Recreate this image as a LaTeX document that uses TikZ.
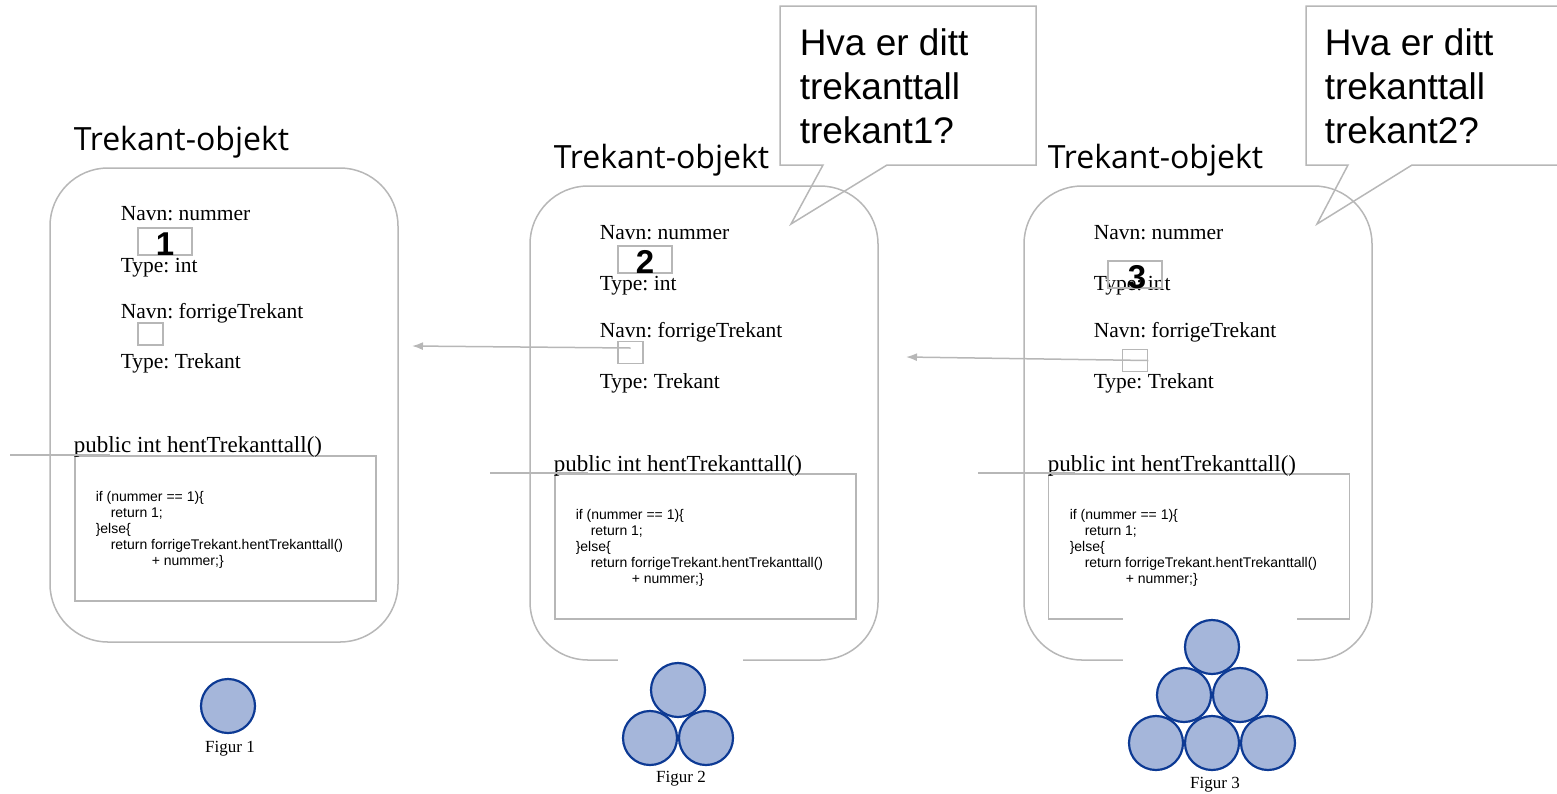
\documentclass[tikz,border=0pt]{standalone}
\usepackage{fontspec}
\setmainfont{Liberation Serif}
\newfontfamily\titlefont{Open Sans}
\newfontfamily\arialfont{Liberation Sans}
\usetikzlibrary{arrows.meta}
\frenchspacing

\definecolor{linegray}{HTML}{B7B7B7}
\definecolor{ballfill}{HTML}{A5B6DA}
\definecolor{balledge}{HTML}{0D3A94}

\begin{document}
\begin{tikzpicture}[x=1pt, y=-1pt, line width=1.5pt]
        \tikzstyle{objbox} = [rectangle, draw=linegray, rounded corners=58pt, minimum width=348pt, minimum height=474pt]
        \tikzstyle{codebox} = [rectangle, draw=linegray, minimum width=301pt, minimum height=145pt]
        \tikzstyle{valbox} = [rectangle, draw=linegray, minimum width=54pt, minimum height=27pt, inner sep=0]
        \tikzstyle{refbox} = [rectangle, draw=linegray, minimum width=25pt, minimum height=22pt, inner sep=0]
        \tikzstyle{field} = [anchor=base west, inner sep=0, font=\fontsize{21.5}{25}\selectfont]
        \tikzstyle{method} = [anchor=base west, inner sep=0, font=\fontsize{23}{27}\selectfont]
        \tikzstyle{objtitle} = [anchor=base west, inner sep=0, font=\titlefont\fontsize{32}{38}\selectfont]
        \tikzstyle{codetext} = [anchor=north west, inner sep=0, align=left, font=\arialfont\fontsize{14}{16}\selectfont]
        \tikzstyle{digit} = [anchor=base, inner sep=0, font=\arialfont\bfseries\fontsize{33}{38}\selectfont]
        \tikzstyle{ball} = [circle, draw=balledge, fill=ballfill, line width=2.2pt, minimum size=54pt, inner sep=0]
        \tikzstyle{figcap} = [anchor=base, inner sep=0, font=\fontsize{17}{20}\selectfont]
        \tikzstyle{speech} = [anchor=north west, inner sep=0, align=left, font=\arialfont\fontsize{37}{44}\selectfont]
        \tikzstyle{pointer} = [draw=linegray, -{Latex[length=11pt,width=8pt]}]

        \useasboundingbox (0,0) rectangle (1557,793);
        \clip (0,0) rectangle (1557,793);

        % Objekt 1
        \node[objbox] (obj1) at (224,405) {};
        \node[codebox] (code1) at (225.5,528.5) {};
        \node[objtitle] (title1) at (73,150) {Trekant-objekt};
        \node[field] (name1a) at (120,220) {Navn: nummer};
        \node[valbox] (val1) at (165,241.5) {};
        \node[field] (type1a) at (120,272) {Type: int};
        \node[field] (name1b) at (120,318) {Navn: forrigeTrekant};
        \node[refbox] (ref1) at (150.5,334) {};
        \node[field] (type1b) at (120,368) {Type: Trekant};
        \node[method] (meth1) at (73,452) {public int hentTrekanttall()};
        \node[codetext] (body1) at (95,491) {if (nummer == 1)\{\\\hspace*{15pt}return 1;\\\}else\{\\\hspace*{15pt}return forrigeTrekant.hentTrekanttall()\\\hspace*{56pt}+ nummer;\}};
        \node[digit] at (val1.south) {1};
        \draw[linegray] (10,455) -- (110,455);

        % Objekt 2
        \node[objbox] (obj2) at (704,423) {};
        \node[codebox] (code2) at (705.5,546.5) {};
        \node[objtitle] (title2) at (553,168) {Trekant-objekt};
        \node[field] (name2a) at (599,239) {Navn: nummer};
        \node[valbox] (val2) at (645,259.5) {};
        \node[field] (type2a) at (599,290) {Type: int};
        \node[field] (name2b) at (599,337) {Navn: forrigeTrekant};
        \node[refbox] (ref2) at (630.5,352.5) {};
        \node[field] (type2b) at (599,388) {Type: Trekant};
        \node[method] (meth2) at (553,471) {public int hentTrekanttall()};
        \node[codetext] (body2) at (575,509) {if (nummer == 1)\{\\\hspace*{15pt}return 1;\\\}else\{\\\hspace*{15pt}return forrigeTrekant.hentTrekanttall()\\\hspace*{56pt}+ nummer;\}};
        \node[digit] at (val2.south) {2};
        \draw[linegray] (490,473) -- (588,473);

        % Objekt 3
        \node[objbox] (obj3) at (1198,423) {};
        \node[codebox] (code3) at (1199,546.5) {};
        \node[objtitle] (title3) at (1047,168) {Trekant-objekt};
        \node[field] (name3a) at (1093,239) {Navn: nummer};
        \node[field] (type3a) at (1093,290) {Type: int};
        \node[valbox] (val3) at (1135,274.5) {};
        \node[field] (name3b) at (1093,337) {Navn: forrigeTrekant};
        \node[refbox] (ref3) at (1135,360.5) {};
        \node[field] (type3b) at (1093,388) {Type: Trekant};
        \node[method] (meth3) at (1047,471) {public int hentTrekanttall()};
        \node[codetext] (body3) at (1069,509) {if (nummer == 1)\{\\\hspace*{15pt}return 1;\\\}else\{\\\hspace*{15pt}return forrigeTrekant.hentTrekanttall()\\\hspace*{56pt}+ nummer;\}};
        \node[digit] at ([xshift=2pt]val3.south) {3};
        \draw[linegray] (978,473) -- (1075,473);

        % Pekere
        \coordinate (end2) at (412,346);
        \coordinate (end3) at (906,357);
        \draw[pointer] ([yshift=4.5pt]ref2.center) -- (end2);
        \draw[pointer] (ref3.east) -- (end3);

        % Snakkebobler
        \draw[linegray] (780,6) -- (1036,6) -- (1036,165) -- (887,165) -- (791,224) -- (823,165) -- (780,165) -- cycle;
        \node[speech] (ask1) at (799,28) {Hva er ditt\\trekanttall\\trekant1?};
        \draw[linegray] (1306,6) -- (1565,6) -- (1565,165) -- (1412,165) -- (1317,224) -- (1348,165) -- (1306,165) -- cycle;
        \node[speech] (ask2) at (1324,28) {Hva er ditt\\trekanttall\\trekant2?};

        % Figurer
        \fill[white] (618,640) rectangle (743,793);
        \fill[white] (1123,612) rectangle (1297,793);
        \node[ball] (b11) at (228,706) {};
        \node[figcap] (fig1) at (230,752) {Figur 1};
        \node[ball] (b21) at (678,690) {};
        \node[ball] (b22) at (650,738) {};
        \node[ball] (b23) at (706,738) {};
        \node[figcap] (fig2) at (681,782) {Figur 2};
        \node[ball] (b31) at (1212,647) {};
        \node[ball] (b32) at (1184,695) {};
        \node[ball] (b33) at (1240,695) {};
        \node[ball] (b34) at (1156,743) {};
        \node[ball] (b35) at (1212,743) {};
        \node[ball] (b36) at (1268,743) {};
        \node[figcap] (fig3) at (1215,788) {Figur 3};
    \end{tikzpicture}
\end{document}
